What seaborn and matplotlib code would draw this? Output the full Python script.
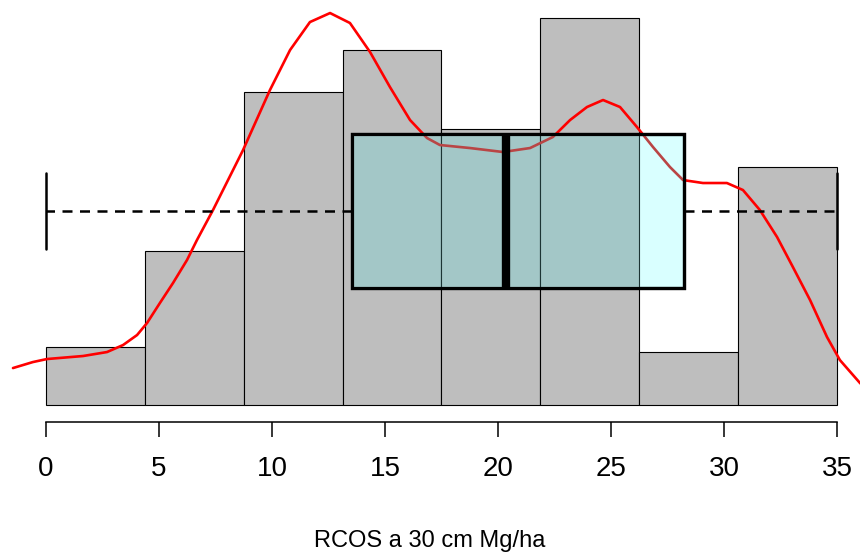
import numpy as np
import matplotlib
matplotlib.use('Agg')
import matplotlib.pyplot as plt
from matplotlib.patches import PathPatch, Rectangle
import seaborn as sns

# histogram: bin edges and counts
bin_edges = [0, 4.375, 8.75, 13.125, 17.5, 21.875, 26.25, 30.625, 35]
counts = [11, 29, 59, 67, 52, 73, 10, 45]

# density curve (scaled to counts)
kde_x = [-1.46, -0.58, 0.04, 1.64, 2.70, 3.41, 4.03, 4.47, 5.04, 5.62, 6.24, 6.68,
         7.39, 8.72, 9.91, 10.80, 11.68, 12.57, 13.45, 14.34, 15.22, 16.11, 16.86,
         17.43, 18.76, 20.22, 21.42, 22.43, 23.19, 23.94, 24.65, 25.40, 26.15, 26.86,
         27.61, 28.19, 29.07, 30.13, 30.84, 31.59, 32.35, 33.05, 33.81, 34.56, 35.13,
         36.02, 36.5]
kde_y = [6.98, 8.11, 8.68, 9.25, 10.0, 11.32, 13.21, 15.47, 19.25, 23.02, 27.36, 31.13,
         36.79, 48.11, 59.43, 66.98, 72.26, 73.96, 72.08, 66.60, 60.0, 53.77, 50.38,
         49.06, 48.49, 47.74, 48.49, 50.57, 53.77, 56.23, 57.55, 56.23, 52.45, 48.68,
         44.91, 42.45, 41.89, 41.89, 40.57, 36.79, 31.70, 26.04, 19.81, 12.83, 8.49,
         4.15, 2.4]

# boxplot summary
box_stats = {'whislo': 0.0, 'q1': 13.54, 'med': 20.35, 'q3': 28.23, 'whishi': 35.0}
xticks = [0, 5, 10, 15, 20, 25, 30, 35]
xlabel = 'RCOS a 30 cm Mg/ha'

sns.set_style('white')
plt.rcParams['font.family'] = ['Liberation Sans Narrow', 'Liberation Sans', 'DejaVu Sans']
plt.rcParams['text.color'] = 'black'
plt.rcParams['xtick.color'] = 'black'
plt.rcParams['axes.labelcolor'] = 'black'

fig = plt.figure(figsize=(8.6, 5.52), dpi=100)
ax = fig.add_axes([0.0, 0.2355, 1.0, 0.7645])

bin_mid = [(a + b) / 2 for a, b in zip(bin_edges[:-1], bin_edges[1:])]
sns.histplot(x=bin_mid, weights=counts, bins=bin_edges, color='#bebebe',
             edgecolor='black', linewidth=0.8, alpha=1, ax=ax, zorder=1)
bars = list(ax.patches)

# red curve under the box
sns.lineplot(x=kde_x, y=kde_y, color='#ff0000', linewidth=1.9, sort=False, ax=ax, zorder=2)

st = dict(box_stats)
st['fliers'] = []
bp = ax.bxp([st], positions=[36.6], widths=29.06, capwidths=14.5,
            orientation='horizontal', patch_artist=True, manage_ticks=False,
            boxprops=dict(facecolor='#d9ffff', edgecolor='black', linewidth=2.3, zorder=3),
            whiskerprops=dict(color='black', linewidth=1.8, linestyle=(0, (4, 3)), zorder=3),
            capprops=dict(color='black', linewidth=1.8, zorder=3),
            medianprops=dict(color='black', linewidth=6, solid_capstyle='butt', zorder=3.6))
box = bp['boxes'][0]

# tinted bars seen through the box
for b in bars:
    r = Rectangle(b.get_xy(), b.get_width(), b.get_height(), facecolor='#a3c7c7',
                  edgecolor='#1c3434', linewidth=0.8, zorder=3.1)
    ax.add_patch(r)
    r.set_clip_path(box)
inner = ax.plot(kde_x, kde_y, color='#b94545', linewidth=1.9, zorder=3.2)[0]
inner.set_clip_path(box)
ax.add_patch(PathPatch(box.get_path(), facecolor='none', edgecolor='black',
                       linewidth=2.3, zorder=3.5, transform=box.get_transform()))

ax.set_xlim(-2.035, 36.02)
ax.set_ylim(-3.2, 76.42)
ax.set_xticks(xticks)
ax.set_xticklabels([str(t) for t in xticks], fontsize=20)
ax.set_yticks([])
ax.set_ylabel('')
ax.set_xlabel(xlabel, fontsize=17, labelpad=34)
for s in ['top', 'left', 'right']:
    ax.spines[s].set_visible(False)
ax.spines['bottom'].set_bounds(0, 35)
ax.spines['bottom'].set_linewidth(1.1)
ax.spines['bottom'].set_color('black')
ax.tick_params(axis='x', length=10.8, width=1.1, pad=14, color='black', bottom=True)
ax.patch.set_visible(False)

fig.savefig('out.png', dpi=100)
